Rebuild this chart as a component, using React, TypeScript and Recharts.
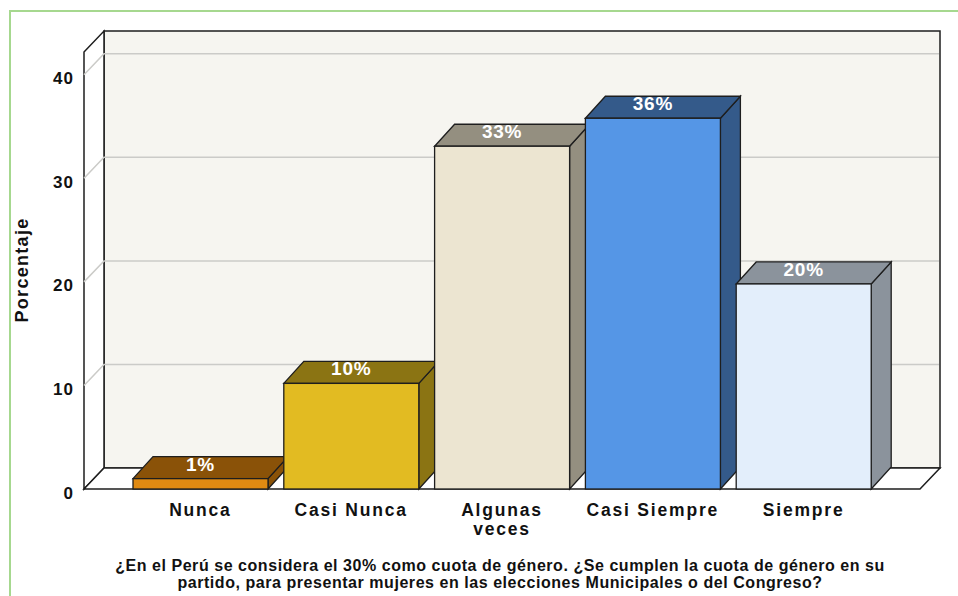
import React from "react";
import { BarChart, Bar, XAxis, YAxis, ReferenceArea, ReferenceLine, LabelList } from "recharts";

// categories (\n marks where the axis label wraps)
const categories = ["Nunca", "Casi Nunca", "Algunas\nveces", "Casi Siempre", "Siempre"];
const percentages = [1.0, 10.2, 33.1, 35.8, 19.8];
const yTicks = [0, 10, 20, 30, 40];
const gridValues = [10, 20, 30, 40];
const yMax = 42.2;

const frontColors = ["#E08A12", "#E2BB22", "#ECE5D1", "#5596E6", "#E3EEFB"];
const shadeColors = ["#8A5208", "#8B7413", "#948F80", "#345A8A", "#8B939C"];

const data = categories.map((c, i) => ({ name: c, value: percentages[i] }));

// 3D depth offsets
const WDX = 20;
const WDY = -21;
const BDX = 20;
const BDY = -22;
const X_PAD = 41;
const EDGE = "#1E1E1E";

// the reference area spans the padded band range, so widen it back to the plot edges
const Walls = (props: any) => {
  const x = props.x - X_PAD;
  const width = props.width + 2 * X_PAD;
  const { y, height } = props;
  const b = y + height;
  return (
    <g>
      <rect x={x + WDX} y={y + WDY} width={width} height={height} fill="#F6F5F0" stroke={EDGE} strokeWidth={1.5} />
      <polygon
        points={`${x},${y} ${x + WDX},${y + WDY} ${x + WDX},${b + WDY} ${x},${b}`}
        fill="#FFFFFF"
        stroke={EDGE}
        strokeWidth={1.5}
      />
      <polygon
        points={`${x},${b} ${x + width},${b} ${x + width + WDX},${b + WDY} ${x + WDX},${b + WDY}`}
        fill="#FFFFFF"
        stroke={EDGE}
        strokeWidth={1.5}
      />
    </g>
  );
};

const GridLine3D = (props: any) => {
  const { x1, y1, x2 } = props;
  return (
    <polyline
      points={`${x1},${y1} ${x1 + WDX},${y1 + WDY} ${x2 + WDX - 1},${y1 + WDY}`}
      fill="none"
      stroke="#CBCBC8"
      strokeWidth={1.5}
    />
  );
};

const Bar3D = (props: any) => {
  const { x, y, width, height, index } = props;
  const front = frontColors[index];
  const shade = shadeColors[index];
  const r = x + width;
  const b = y + height;
  return (
    <g>
      <polygon points={`${r},${y} ${r + BDX},${y + BDY} ${r + BDX},${b + BDY} ${r},${b}`} fill={shade} stroke={EDGE} strokeWidth={1.3} />
      <polygon points={`${x},${y} ${x + BDX},${y + BDY} ${r + BDX},${y + BDY} ${r},${y}`} fill={shade} stroke={EDGE} strokeWidth={1.3} />
      <rect x={x} y={y} width={width} height={height} fill={front} stroke={EDGE} strokeWidth={1.3} />
    </g>
  );
};

const BarValueLabel = (props: any) => {
  const { x, y, width, value } = props;
  return (
    <text
      x={x + width / 2}
      y={y - 8}
      textAnchor="middle"
      fill="#FFFFFF"
      fontFamily="'Liberation Sans', Arial, sans-serif"
      fontWeight="bold"
      fontSize={19}
      letterSpacing={0.8}
    >
      {`${Math.round(value)}%`}
    </text>
  );
};

const CategoryTick = (props: any) => {
  const { x, y, payload } = props;
  const lines = String(payload.value).split("\n");
  return (
    <text
      x={x}
      y={y}
      textAnchor="middle"
      fill="#111"
      fontFamily="'Liberation Sans', Arial, sans-serif"
      fontWeight="bold"
      fontSize={17.5}
      letterSpacing={1.8}
    >
      {lines.map((l, i) => (
        <tspan key={i} x={x} dy={i === 0 ? 27 : 19}>
          {l}
        </tspan>
      ))}
    </text>
  );
};

const ValueTick = (props: any) => {
  const { x, y, payload } = props;
  return (
    <text
      x={x - 10}
      y={y + 9.5}
      textAnchor="end"
      fill="#111"
      fontFamily="'Liberation Sans', Arial, sans-serif"
      fontWeight="bold"
      fontSize={17}
      letterSpacing={1}
    >
      {payload.value}
    </text>
  );
};

const titleLine = {
  textAlign: "center" as const,
  fontFamily: "'Liberation Sans', Arial, sans-serif",
  fontWeight: "bold" as const,
  fontSize: 16,
  lineHeight: "17px",
  letterSpacing: 0.55,
  whiteSpace: "nowrap" as const,
  color: "#111",
};

export default function App() {
  return (
    <div style={{ position: "absolute", left: 0, top: 0, width: 958, height: 596, background: "#fff", overflow: "hidden" }}>
      <div
        style={{
          position: "absolute",
          left: 9,
          top: 10,
          width: 1000,
          height: 700,
          borderLeft: "2px solid #A6D88F",
          borderTop: "2px solid #A6D88F",
        }}
      />
      <div style={{ position: "absolute", left: 0, top: 0 }}>
        <BarChart width={958} height={596} data={data} margin={{ top: 52, right: 38, bottom: 47, left: 24 }}>
          <XAxis
            dataKey="name"
            axisLine={false}
            tickLine={false}
            tickSize={0}
            tickMargin={0}
            height={60}
            padding={{ left: X_PAD, right: X_PAD }}
            interval={0}
            tick={<CategoryTick />}
          />
          <YAxis
            type="number"
            domain={[0, yMax]}
            ticks={yTicks}
            axisLine={false}
            tickLine={false}
            tickSize={0}
            tickMargin={0}
            width={60}
            tick={<ValueTick />}
          />
          <ReferenceArea y1={0} y2={yMax} shape={<Walls />} zIndex={-300} fill="none" stroke="none" />
          {gridValues.map((v) => (
            <ReferenceLine key={v} y={v} shape={<GridLine3D />} zIndex={-200} />
          ))}
          <Bar dataKey="value" barSize={135} isAnimationActive={false} shape={<Bar3D />}>
            <LabelList dataKey="value" content={<BarValueLabel />} />
          </Bar>
        </BarChart>
      </div>
      <div
        style={{
          position: "absolute",
          left: 22,
          top: 270,
          transform: "translate(-50%, -50%) rotate(-90deg)",
          fontFamily: "'Liberation Sans', Arial, sans-serif",
          fontWeight: "bold",
          fontSize: 18,
          letterSpacing: 1.3,
          whiteSpace: "nowrap",
          color: "#111",
        }}
      >
        Porcentaje
      </div>
      <div style={{ position: "absolute", left: 100, width: 800, top: 557 }}>
        <div style={titleLine}>¿En el Perú se considera el 30% como cuota de género. ¿Se cumplen la cuota de género en su</div>
        <div style={titleLine}>partido, para presentar mujeres en las elecciones Municipales o del Congreso?</div>
      </div>
    </div>
  );
}
